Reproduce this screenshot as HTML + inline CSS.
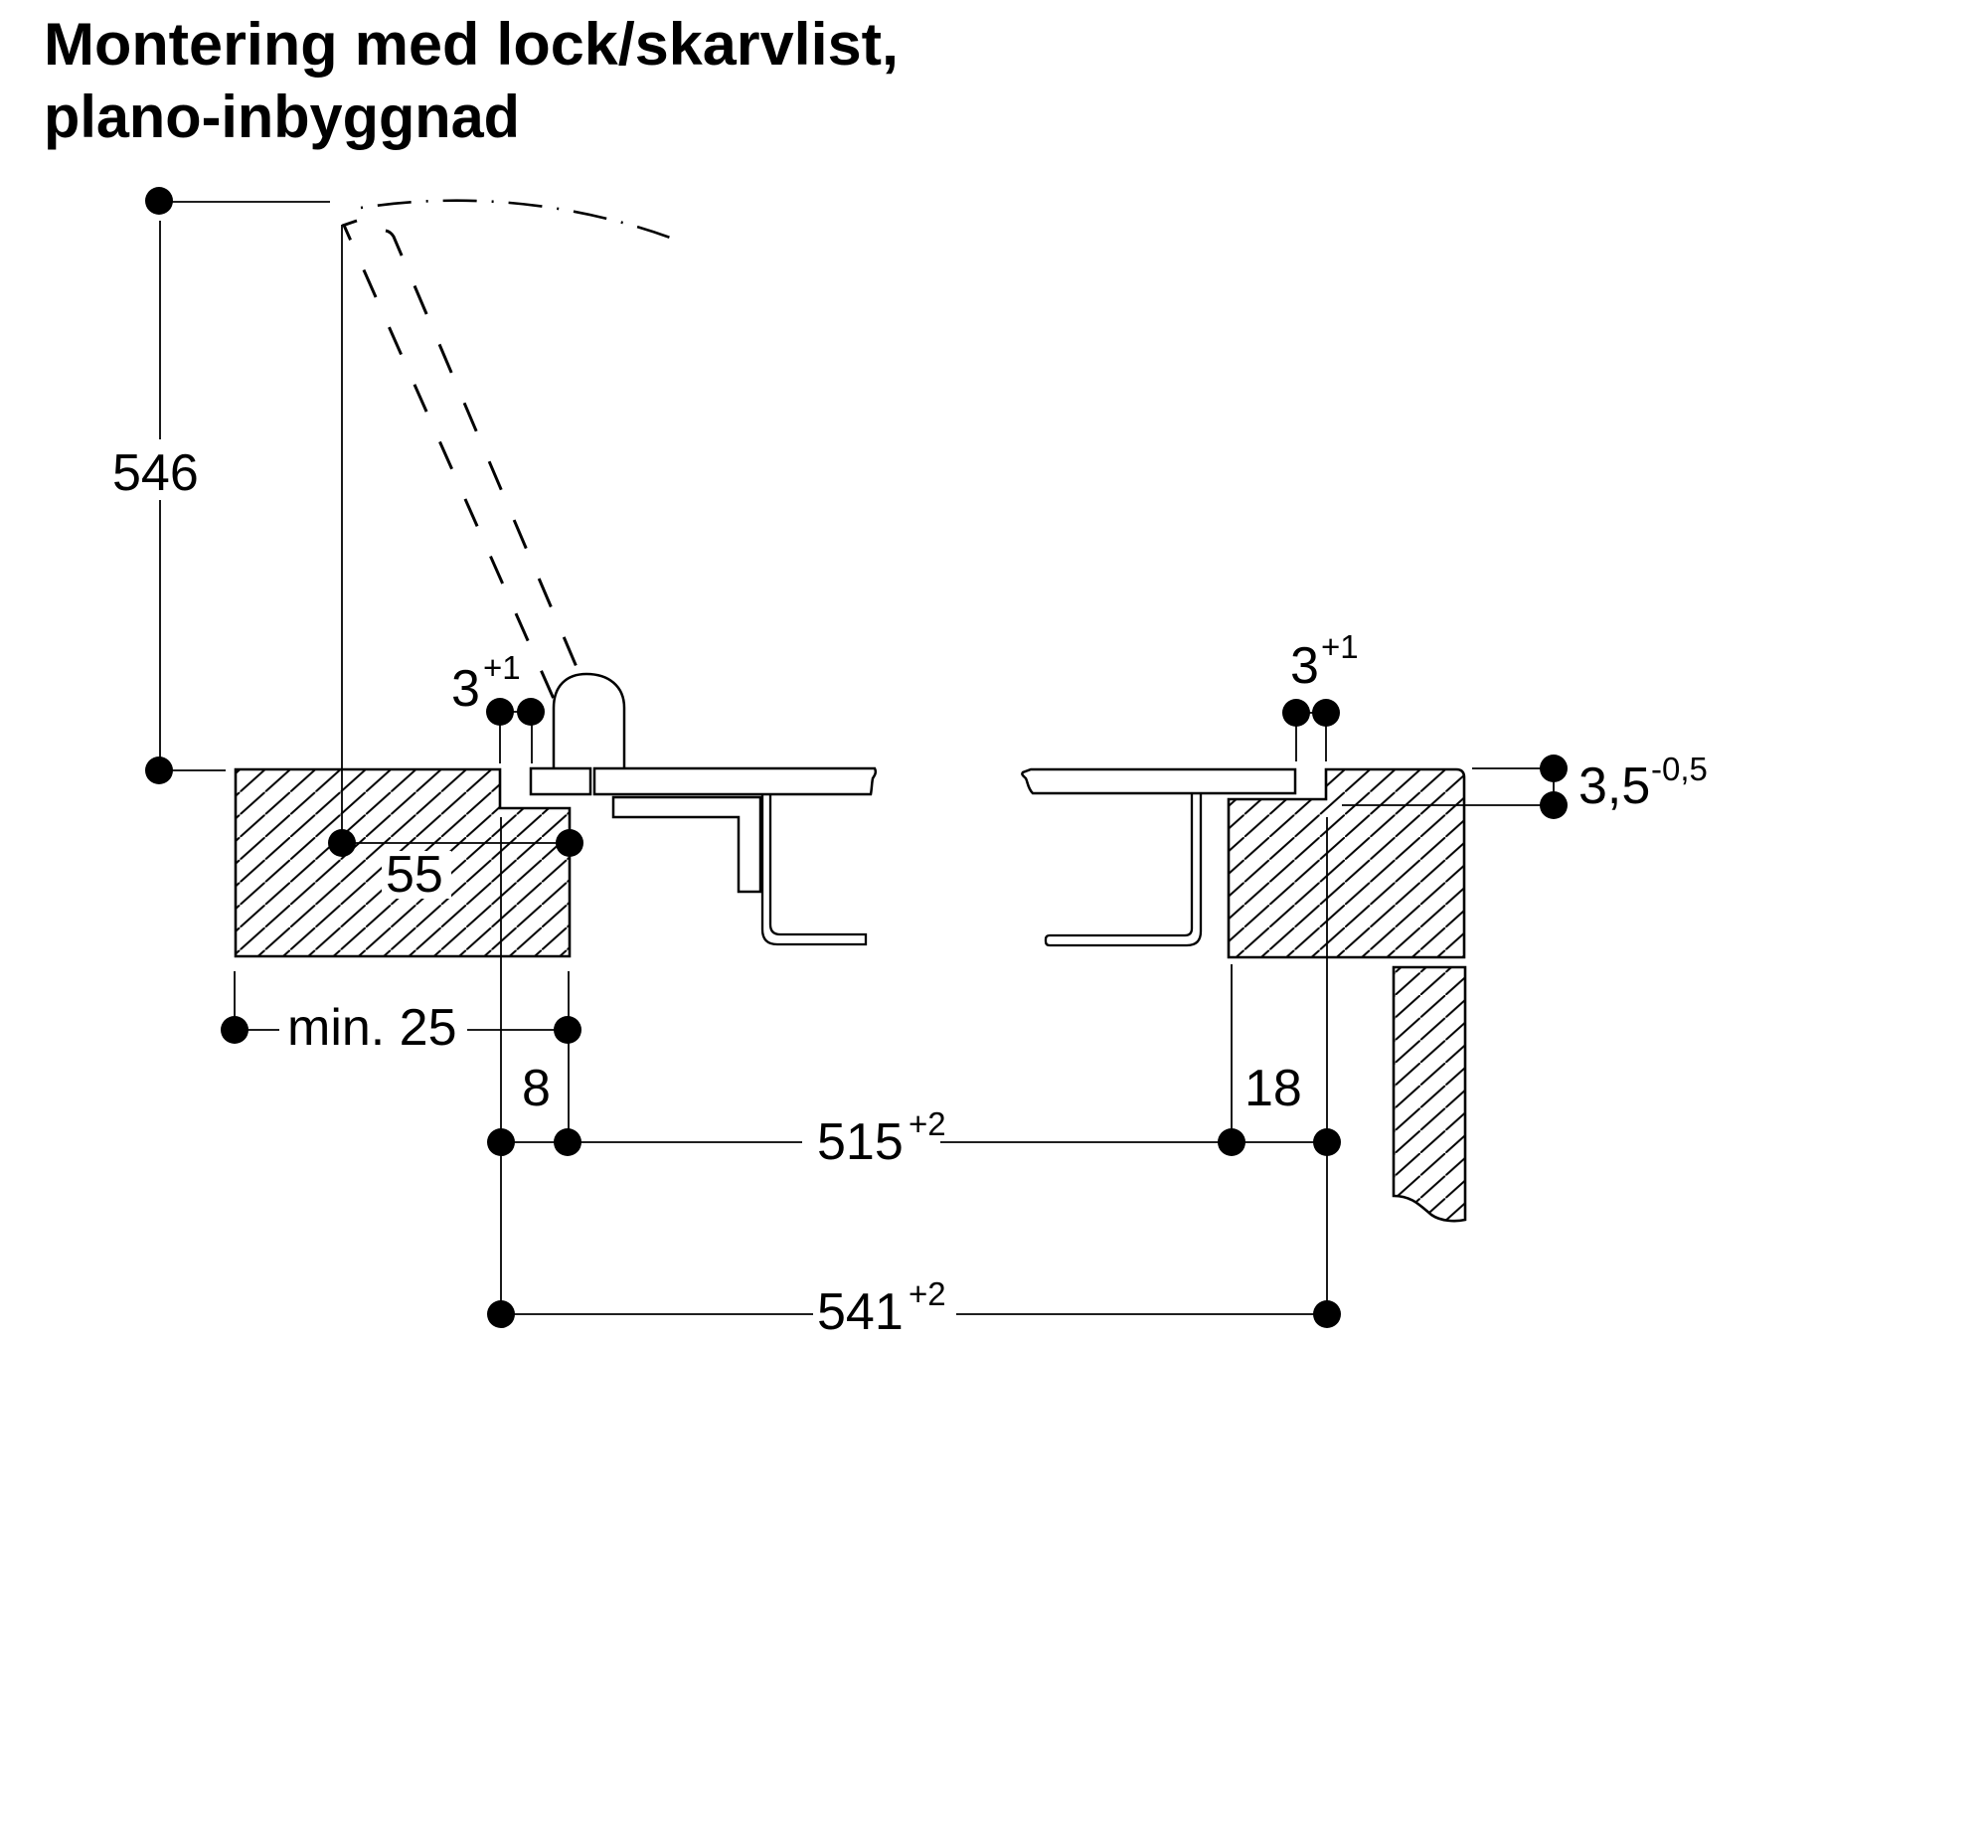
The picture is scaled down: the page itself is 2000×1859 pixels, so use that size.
<!DOCTYPE html>
<html>
<head>
<meta charset="utf-8">
<style>
  html,body{margin:0;padding:0;background:#fff;}
  svg{display:block;}
  text{font-family:"Liberation Sans", Arial, sans-serif; fill:#000;}
</style>
</head>
<body>
<svg width="2000" height="1859" viewBox="0 0 2000 1859" xmlns="http://www.w3.org/2000/svg">
  <defs>
    <pattern id="hL" patternUnits="userSpaceOnUse" x="241.4" y="774" width="25.3" height="22.7">
      <path d="M-2,24.5 L27.3,-1.8" stroke="#000" stroke-width="2" fill="none"/>
    </pattern>
    <pattern id="hR" patternUnits="userSpaceOnUse" x="1353" y="774" width="25.3" height="22.7">
      <path d="M-2,24.5 L27.3,-1.8" stroke="#000" stroke-width="2" fill="none"/>
    </pattern>
  </defs>

  <!-- Title -->
  <text x="44" y="65" font-size="60" font-weight="bold" textLength="860" lengthAdjust="spacingAndGlyphs">Montering med lock/skarvlist,</text>
  <text x="44" y="138" font-size="60" font-weight="bold" textLength="479" lengthAdjust="spacingAndGlyphs">plano-inbyggnad</text>

  <g stroke="#000" fill="none" stroke-linecap="butt">
    <!-- 546 dimension -->
    <line x1="160" y1="203" x2="332" y2="203" stroke-width="1.8"/>
    <line x1="161" y1="222" x2="161" y2="442" stroke-width="1.8"/>
    <line x1="161" y1="503" x2="161" y2="775" stroke-width="1.8"/>
    <line x1="160" y1="775" x2="227" y2="775" stroke-width="1.8"/>

    <!-- dash-dot arc -->
    <path d="M363,209 A639,639 0 0 1 677,240" stroke-width="2.6" stroke-dasharray="2 15 34 15"/>

    <!-- lid dashed outlines -->
    <path d="M359,222 L346,226.5 L557,703" stroke-width="3" stroke-dasharray="30 33"/>
    <path d="M388,232 Q393,233 396,238 L583,678" stroke-width="3" stroke-dasharray="31 33"/>

    <!-- hinge vertical (55 dim left extension) -->
    <line x1="344" y1="226" x2="344" y2="848" stroke-width="1.8"/>

    <!-- Left block -->
    <path d="M237,774 L503,774 L503,813 L573,813 L573,962 L237,962 Z" fill="url(#hL)" stroke-width="2.6"/>
  </g>

  <!-- white behind 55 -->
  <rect x="384" y="856" width="70" height="48" fill="#fff"/>

  <g stroke="#000" fill="none">
    <!-- 55 dim line -->
    <line x1="344" y1="848" x2="573" y2="848" stroke-width="1.8"/>
    <!-- redraw block outline edges over white rect -->
    <!-- 3+1 left -->
    <line x1="503" y1="716" x2="534" y2="716" stroke-width="1.8"/>
    <line x1="503" y1="716" x2="503" y2="768" stroke-width="1.8"/>
    <line x1="535" y1="716" x2="535" y2="768" stroke-width="1.8"/>

    <!-- knob -->
    <path d="M557,773 V712 C557,690 570,678 590,678 C612,678 628,690 628,712 V773" stroke-width="2.5"/>

    <!-- left lid plate piece -->
    <rect x="534" y="773" width="60" height="26" stroke-width="2.5"/>
    <!-- left main plate with broken right end -->
    <path d="M598,773 L880,773 C882,777 880,780 878,783 C877,788 877,794 876,799 L598,799 Z" stroke-width="2.5"/>
    <!-- bracket -->
    <path d="M617,802 L765,802 L765,897 L743,897 L743,822 L617,822 Z" stroke-width="2.5"/>
    <!-- hanger -->
    <path d="M767,800 L767,935 Q767,950 782,950 L871,950 L871,940 L785,940 Q775,940 775,930 L775,800" stroke-width="2.3"/>

    <!-- vertical dims -->
    <line x1="504" y1="822" x2="504" y2="1322" stroke-width="1.8"/>
    <line x1="236" y1="977" x2="236" y2="1036" stroke-width="1.8"/>
    <line x1="572" y1="977" x2="572" y2="1149" stroke-width="1.8"/>
    <!-- min 25 -->
    <line x1="236" y1="1036" x2="281" y2="1036" stroke-width="1.8"/>
    <line x1="470" y1="1036" x2="571" y2="1036" stroke-width="1.8"/>
    <!-- 515 row -->
    <line x1="504" y1="1149" x2="807" y2="1149" stroke-width="1.8"/>
    <line x1="946" y1="1149" x2="1335" y2="1149" stroke-width="1.8"/>
    <!-- 541 row -->
    <line x1="504" y1="1322" x2="818" y2="1322" stroke-width="1.8"/>
    <line x1="962" y1="1322" x2="1335" y2="1322" stroke-width="1.8"/>
    <!-- right verticals -->
    <line x1="1239" y1="970" x2="1239" y2="1149" stroke-width="1.8"/>

    <!-- Right plate -->
    <path d="M1037,774 L1303,774 L1303,798 L1039,798 C1034,793 1034,787 1032,783 C1030,781 1027,779 1029,777 Z" stroke-width="2.5"/>
    <!-- right hanger -->
    <path d="M1208,798 L1208,937 Q1208,951 1194,951 L1056,951 Q1052,951 1052,947 L1052,945 Q1052,941 1056,941 L1192,941 Q1199,941 1199,934 L1199,798" stroke-width="2.3"/>

    <!-- Right block -->
    <path d="M1236,804 L1334,804 L1334,774 L1465,774 Q1473,774 1473,782 L1473,963 L1236,963 Z" fill="url(#hR)" stroke-width="2.6"/>
    <!-- lower right piece -->
    <path d="M1402,973 L1474,973 L1474,1227 C1465,1229 1450,1229 1440,1222 C1428,1212 1420,1203 1402,1203 Z" fill="url(#hR)" stroke-width="2.6"/>

    <line x1="1335" y1="822" x2="1335" y2="1322" stroke-width="1.8"/>

    <!-- 3+1 right -->
    <line x1="1304" y1="717" x2="1334" y2="717" stroke-width="1.8"/>
    <line x1="1304" y1="717" x2="1304" y2="766" stroke-width="1.8"/>
    <line x1="1334" y1="717" x2="1334" y2="766" stroke-width="1.8"/>

    <!-- 3,5 dim -->
    <line x1="1481" y1="773" x2="1563" y2="773" stroke-width="1.8"/>
    <line x1="1350" y1="810" x2="1563" y2="810" stroke-width="1.8"/>
    <line x1="1563" y1="773" x2="1563" y2="810" stroke-width="1.8"/>
  </g>

  <!-- Dots -->
  <g fill="#000">
    <circle cx="160" cy="202" r="14"/>
    <circle cx="160" cy="775" r="14"/>
    <circle cx="344" cy="848" r="14"/>
    <circle cx="573" cy="848" r="14"/>
    <circle cx="503" cy="716" r="14"/>
    <circle cx="534" cy="716" r="14"/>
    <circle cx="236" cy="1036" r="14"/>
    <circle cx="571" cy="1036" r="14"/>
    <circle cx="504" cy="1149" r="14"/>
    <circle cx="571" cy="1149" r="14"/>
    <circle cx="1239" cy="1149" r="14"/>
    <circle cx="1335" cy="1149" r="14"/>
    <circle cx="504" cy="1322" r="14"/>
    <circle cx="1335" cy="1322" r="14"/>
    <circle cx="1304" cy="717" r="14"/>
    <circle cx="1334" cy="717" r="14"/>
    <circle cx="1563" cy="773" r="14"/>
    <circle cx="1563" cy="810" r="14"/>
  </g>

  <!-- Dimension labels -->
  <g font-size="52">
    <text x="113" y="493">546</text>
    <text x="454" y="710">3</text>
    <text x="388" y="897">55</text>
    <text x="289" y="1051">min. 25</text>
    <text x="525" y="1112">8</text>
    <text x="822" y="1166">515</text>
    <text x="822" y="1337">541</text>
    <text x="1252" y="1112">18</text>
    <text x="1298" y="687">3</text>
    <text x="1588" y="808">3,5</text>
  </g>
  <g font-size="33">
    <text x="486" y="683">+1</text>
    <text x="914" y="1142">+2</text>
    <text x="914" y="1313">+2</text>
    <text x="1329" y="662">+1</text>
    <text x="1661" y="785">-0,5</text>
  </g>
</svg>
</body>
</html>
